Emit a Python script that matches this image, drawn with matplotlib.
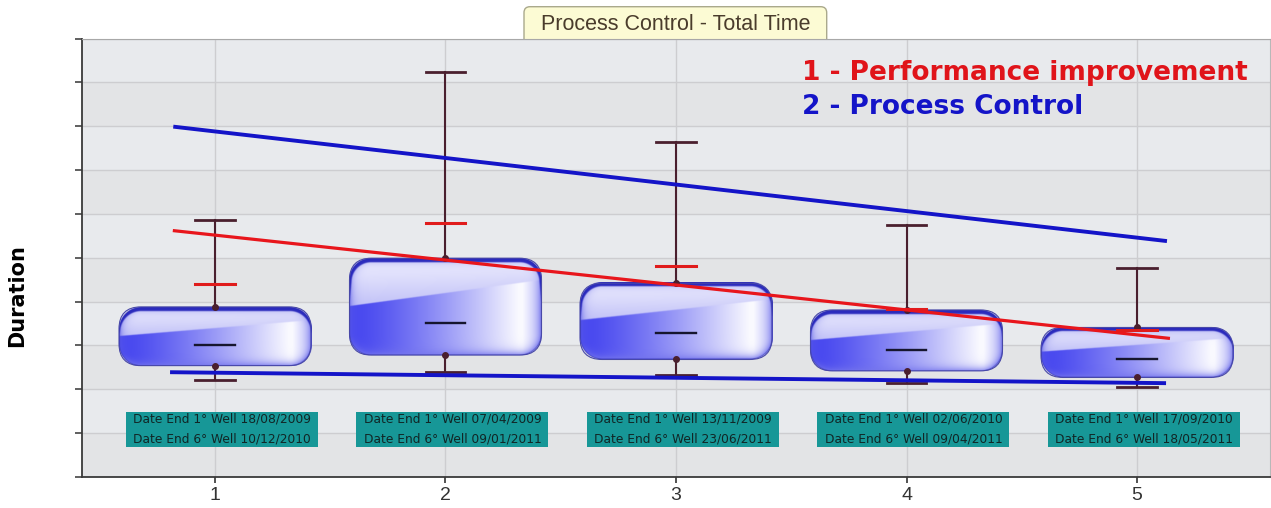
import numpy as np
import matplotlib
matplotlib.use("Agg")
import matplotlib.pyplot as plt
from matplotlib.patches import FancyBboxPatch, Rectangle

# ---- data -------------------------------------------------------------
categories = [1, 2, 3, 4, 5]
whisker_low = [2.21, 2.39, 2.33, 2.15, 2.05]
quartile_low = [2.54, 2.78, 2.68, 2.42, 2.27]
medians = [3.02, 3.52, 3.29, 2.90, 2.69]
quartile_high = [3.88, 4.99, 4.42, 3.81, 3.41]
whisker_high = [5.85, 9.23, 7.64, 5.75, 4.76]
performance_marks = [4.40, 5.80, 4.81, 3.82, 3.35]

first_well_dates = ["18/08/2009", "07/04/2009", "13/11/2009", "02/06/2010", "17/09/2010"]
sixth_well_dates = ["10/12/2010", "09/01/2011", "23/06/2011", "09/04/2011", "18/05/2011"]

performance_trend_x = [0.817, 5.143]
performance_trend_y = [5.62, 3.16]
control_upper_x = [0.819, 5.13]
control_upper_y = [7.99, 5.38]
control_lower_x = [0.805, 5.126]
control_lower_y = [2.39, 2.14]

# ---- figure / axes ----------------------------------------------------
W, H = 1271, 508
fig = plt.figure(figsize=(W / 100, H / 100), dpi=100)
fig.patch.set_facecolor("white")
ax = fig.add_axes([82 / W, 31 / H, (1270 - 82) / W, (477 - 38.5) / H])
ax.set_xlim(0.423, 5.577)
ax.set_ylim(0, 10)
ax.set_facecolor("#e5e6e9")

for k in range(10):
    ax.axhspan(k, k + 1, color="#e8eaed" if k % 2 else "#e3e4e6", lw=0, zorder=0)

ax.set_axisbelow(True)
ax.grid(True, color="#cdcdd0", lw=1.0)
ax.set_yticks(range(11))
ax.set_yticklabels([])
ax.set_xticks(categories)
ax.set_xticklabels([str(c) for c in categories], fontsize=14,
                   family=["Liberation Sans", "DejaVu Sans"], color="#333333")
ax.tick_params(axis="x", length=4, width=1.2, color="#333333", pad=3)
ax.tick_params(axis="y", length=5, width=1.2, color="#444444")
for side in ("left", "bottom"):
    ax.spines[side].set_color("#3a3a3a")
    ax.spines[side].set_linewidth(1.3)
ax.spines["top"].set_color("#a8a8a8")
ax.spines["right"].set_color("#b8b8b8")

# pixel scale of one data unit in each direction
p0 = ax.transData.transform((0, 0))
p1 = ax.transData.transform((1, 1))
sx, sy = p1[0] - p0[0], p1[1] - p0[1]


def glossy_rgba(w, h, r, scale=2):
    """Blue glass fill for a rounded box of w x h pixels (row 0 = top)."""
    nx, ny = max(int(w * scale), 2), max(int(h * scale), 2)
    xs = (np.arange(nx) + 0.5) / scale
    ys = (np.arange(ny) + 0.5) / scale
    X, Y = np.meshgrid(xs, ys)
    u, v = X / w, Y / h
    qx = np.abs(X - w / 2) - (w / 2 - r)
    qy = np.abs(Y - h / 2) - (h / 2 - r)
    sd = np.hypot(np.maximum(qx, 0), np.maximum(qy, 0)) + np.minimum(np.maximum(qx, qy), 0) - r
    depth = -sd

    blue = np.array([0.29, 0.29, 0.94])
    white = np.array([0.98, 0.98, 1.0])
    t = np.clip((u - 0.06) / 0.82, 0, 1) ** 1.25
    col = blue * (1 - t[..., None]) + white * t[..., None]
    # shift back toward blue at the far right
    back = np.clip((u - 0.9) / 0.1, 0, 1)[..., None]
    col = col * (1 - 0.5 * back) + np.array([0.50, 0.50, 0.95]) * 0.5 * back

    # upper glossy highlight with slanted lower edge
    vb = 0.50 - 0.27 * u
    s = np.clip((vb - v) * h / 1.2, 0, 1)[..., None]
    f = np.clip(v / vb, 0, 1)[..., None]
    top_c = np.array([0.95, 0.95, 1.0])
    low_c = np.array([0.84, 0.84, 0.98]) * (1 - 0.45 * (1 - u[..., None])) + \
        np.array([0.66, 0.66, 0.96]) * 0.45 * (1 - u[..., None])
    hcol = top_c * (1 - f) + low_c * f
    col = col * (1 - s) + hcol * s

    # coloured rim all round
    rim = np.exp(-np.maximum(depth, 0) / 3.5)[..., None]
    rim_c = np.array([0.34, 0.34, 0.90])
    col = col * (1 - 0.85 * rim) + rim_c * 0.85 * rim
    # lighter band along the bottom
    bot = (np.clip((v - 0.80) / 0.2, 0, 1) * np.exp(-np.maximum(depth, 0) / 5.0))[..., None]
    col = col * (1 - 0.45 * bot) + np.array([0.62, 0.62, 0.96]) * 0.45 * bot
    # dark band along the top edge
    thick = 1.2 + 4.0 * np.clip(1 - 2.2 * v, 0, 1)
    dark = np.clip((thick - depth) / 1.2, 0, 1)[..., None]
    col = col * (1 - 0.9 * dark) + np.array([0.12, 0.12, 0.72]) * 0.9 * dark

    alpha = np.clip(depth * scale + 0.5, 0, 1)
    return np.dstack([np.clip(col, 0, 1), alpha])


box_width = 0.833
corner_px = 22
whisker_color = "#4a1f2e"
cap_half = 0.085

for c, wl, ql, md, qh, wh, pm in zip(categories, whisker_low, quartile_low, medians,
                                      quartile_high, whisker_high, performance_marks):
    x0, x1 = c - box_width / 2, c + box_width / 2
    w_px, h_px = box_width * sx, (qh - ql) * sy
    r_px = min(corner_px, h_px / 2 - 0.5)
    ax.imshow(glossy_rgba(w_px, h_px, r_px), extent=(x0, x1, ql, qh), origin="upper",
              aspect="auto", interpolation="bilinear", zorder=2)
    ax.add_patch(FancyBboxPatch((x0, ql), box_width, qh - ql,
                                boxstyle=f"round,pad=0,rounding_size={r_px / sx}",
                                mutation_aspect=sx / sy, fc="none", ec="#4848a8",
                                lw=0.8, zorder=2.2))
    # whiskers and caps
    ax.plot([c, c], [qh, wh], color=whisker_color, lw=1.5, zorder=3)
    ax.plot([c, c], [wl, ql], color=whisker_color, lw=1.5, zorder=3)
    ax.plot([c - cap_half, c + cap_half], [wh, wh], color=whisker_color, lw=2.0, zorder=3)
    ax.plot([c - cap_half, c + cap_half], [wl, wl], color=whisker_color, lw=2.0, zorder=3)
    ax.plot([c, c], [ql, qh], "o", ms=4, color=whisker_color, zorder=3.5)
    # median
    ax.plot([c - cap_half, c + cap_half], [md, md], color="#16162e", lw=1.7, zorder=3)
    # performance mark
    ax.plot([c - cap_half, c + cap_half], [pm, pm], color="#e01c1c", lw=2.2, zorder=4)

# trend lines
ax.plot(performance_trend_x, performance_trend_y, color="#e8161c", lw=2.3,
        solid_capstyle="butt", zorder=5)
ax.plot(control_upper_x, control_upper_y, color="#1414c8", lw=2.8,
        solid_capstyle="butt", zorder=5)
ax.plot(control_lower_x, control_lower_y, color="#1414c8", lw=2.8,
        solid_capstyle="butt", zorder=5)

# date captions under every box
cap_w, cap_h = 192 / sx, 35 / sy
cap_y = 1.09
for c, d1, d6 in zip(categories, first_well_dates, sixth_well_dates):
    cx = c + 0.03
    ax.add_patch(Rectangle((cx - cap_w / 2, cap_y - cap_h / 2), cap_w, cap_h,
                           fc="#179797", ec="none", zorder=6))
    ax.text(cx, cap_y, f"Date End 1° Well {d1}\nDate End 6° Well {d6}",
            ha="center", va="center", fontsize=8.8, family="DejaVu Sans",
            color="#112626", linespacing=1.75, zorder=6.5)

ax.set_xlim(0.423, 5.577)
ax.set_ylim(0, 10)

# legend-like annotations
fig.text(802 / W, 1 - 80 / H, "1 - Performance improvement", color="#e0141a",
         fontsize=19, fontweight="bold", family="DejaVu Sans", va="baseline")
fig.text(802 / W, 1 - 114 / H, "2 - Process Control", color="#1414c8",
         fontsize=19, fontweight="bold", family="DejaVu Sans", va="baseline")

# y axis title
fig.text(17 / W, 1 - 296 / H, "Duration", rotation=90, ha="center", va="center",
         fontsize=15, fontweight="bold", family="DejaVu Sans", color="black")

# title tab sitting on top of the plot frame
tab_x0, tab_x1 = 524 / W, 826.7 / W
tab_top, tab_bot = 1 - 6.7 / H, 1 - 46 / H
fig.add_artist(FancyBboxPatch((tab_x0, tab_bot), tab_x1 - tab_x0, tab_top - tab_bot,
                              boxstyle=f"round,pad=0,rounding_size={6 / W}",
                              mutation_aspect=W / H, transform=fig.transFigure,
                              fc="#fcfbd4", ec="#aaa98c", lw=1.0, zorder=-1))
fig.text((tab_x0 + tab_x1) / 2, 1 - 30 / H, "Process Control - Total Time",
         ha="center", va="baseline", fontsize=15.5, color="#4a3c2c",
         family=["Liberation Sans", "DejaVu Sans"], zorder=-0.5)

fig.savefig("out.png", dpi=100, facecolor="white")
